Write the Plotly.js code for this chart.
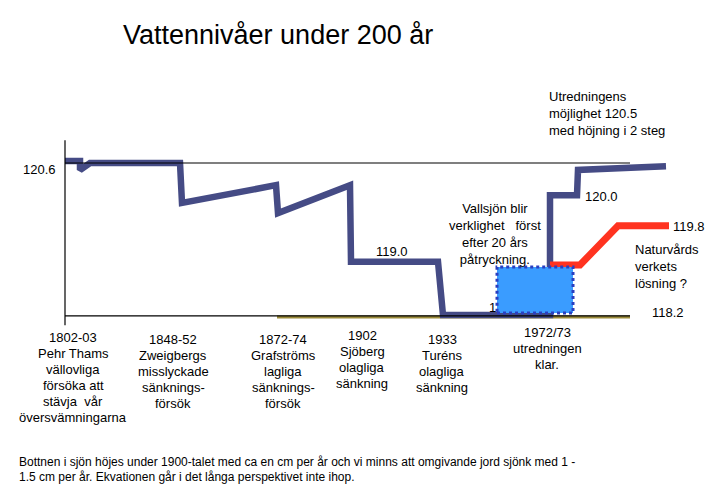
<!DOCTYPE html>
<html>
<head>
<meta charset="utf-8">
<script src="https://cdn.plot.ly/plotly-3.0.1.min.js"></script>
<style>html,body{margin:0;padding:0;background:#fff;}#chart{width:714px;height:490px;}</style>
</head>
<body>
<div id="chart"></div>
<script>
// Schematic time axis (x) and water level in metres (y)
var levelX = [0, 15, 15, 25, 115, 117, 211, 213, 285, 286, 373, 378, 485, 485, 512, 513, 601];
var levelY = [120.63, 120.63, 120.49, 120.6, 120.6, 119.97, 120.25, 119.81, 120.25, 119.04, 119.04, 118.2, 118.2, 120.09, 120.09, 120.49, 120.55];

var natureX = [485, 515, 553, 604];
var natureY = [118.99, 118.99, 119.61, 119.61];

var lakeX = [432, 508, 508, 432, 432];
var lakeY = [118.23, 118.23, 118.96, 118.96, 118.23];

var bottomX = [212, 565];
var bottomY = [118.17, 118.17];

var eventLabels = [
  "1802-03<br>Pehr Thams<br>vällovliga<br>försöka att<br>stävja  vår<br>översvämningarna",
  "1848-52<br>Zweigbergs<br>misslyckade<br>sänknings-<br>försök",
  "1872-74<br>Grafströms<br>lagliga<br>sänknings-<br>försök",
  "1902<br>Sjöberg<br>olagliga<br>sänkning",
  "1933<br>Turéns<br>olagliga<br>sänkning",
  "1972/73<br>utredningen<br>klar."
];
var eventPx = [73, 173, 283, 362, 442, 547];
var eventFirstLine = [337, 339, 339, 335, 339, 332];

var FONT = "Liberation Sans, Arial, sans-serif";
function px(x){ return x / 714; }
function py(y){ return 1 - y / 490; }
function ann(text, x, y, xa, ya, size, align){
  return {text: text, xref: 'paper', yref: 'paper', x: px(x), y: py(y),
    xanchor: xa, yanchor: ya, showarrow: false, align: align || 'left',
    font: {family: FONT, size: size, color: '#000'}};
}

var annotations = [
  ann("Vattennivåer under 200 år", 121, 35, 'left', 'middle', 27),
  ann("120.6", 21, 170, 'left', 'middle', 13),
  ann("119.0", 392, 251, 'center', 'middle', 13),
  ann("120.0", 583, 197, 'left', 'middle', 13),
  ann("119.8", 671, 226, 'left', 'middle', 13),
  ann("118.2", 668, 312, 'center', 'middle', 13),
  ann("1", 492, 307, 'center', 'middle', 13),
  ann("Utredningens<br>möjlighet 120.5<br>med höjning i 2 steg", 547, 113.5, 'left', 'middle', 13),
  ann("Vallsjön blir<br>verklighet   först<br>efter 20 års<br>påtryckning.", 495, 233.5, 'center', 'middle', 13, 'center'),
  ann("Naturvårds<br>verkets<br>lösning ?", 633, 266, 'left', 'middle', 13),
  ann("Bottnen i sjön höjes under 1900-talet med ca en cm per år och vi minns att omgivande jord sjönk med 1 -", 17, 462, 'left', 'middle', 12),
  ann("1.5 cm per år. Ekvationen går i det långa perspektivet inte ihop.", 17, 477, 'left', 'middle', 12)
];
for (var i = 0; i < eventLabels.length; i++) {
  var lines = eventLabels[i].split('<br>');
  for (var j = 0; j < lines.length; j++) {
    annotations.push(ann(lines[j], eventPx[i], eventFirstLine[i] + 16 * j, 'center', 'middle', 13, 'center'));
  }
}

var traces = [
  {x: bottomX, y: bottomY, mode: 'lines', line: {color: '#9a8a3a', width: 3}, hoverinfo: 'skip'},
  {x: levelX, y: levelY, mode: 'lines', line: {color: '#454b85', width: 6.5}, hoverinfo: 'skip'},
  {x: natureX, y: natureY, mode: 'lines', line: {color: '#ff3320', width: 7}, hoverinfo: 'skip'},
  {x: lakeX, y: lakeY, mode: 'lines', fill: 'toself', fillcolor: '#3a9cff',
   line: {color: '#2a3fc0', width: 3, dash: 'dot'}, hoverinfo: 'skip'}
];

var shapes = [
  {type: 'line', xref: 'x', yref: 'y', x0: 0, x1: 0, y0: 118.04, y1: 120.96, line: {color: '#000', width: 1.2}},
  {type: 'line', xref: 'x', yref: 'y', x0: 0, x1: 565, y0: 120.6, y1: 120.6, line: {color: '#000', width: 1.2}},
  {type: 'line', xref: 'x', yref: 'y', x0: 0, x1: 565, y0: 118.185, y1: 118.185, line: {color: '#000', width: 1.2}}
];

var layout = {
  width: 714, height: 490,
  margin: {l: 0, r: 0, t: 0, b: 0},
  paper_bgcolor: '#fff', plot_bgcolor: '#fff',
  showlegend: false,
  xaxis: {visible: false, range: [-65, 649], fixedrange: true},
  yaxis: {visible: false, range: [115.437, 123.174], fixedrange: true},
  annotations: annotations,
  shapes: shapes
};

Plotly.newPlot('chart', traces, layout, {staticPlot: true, displayModeBar: false});
</script>
</body>
</html>
